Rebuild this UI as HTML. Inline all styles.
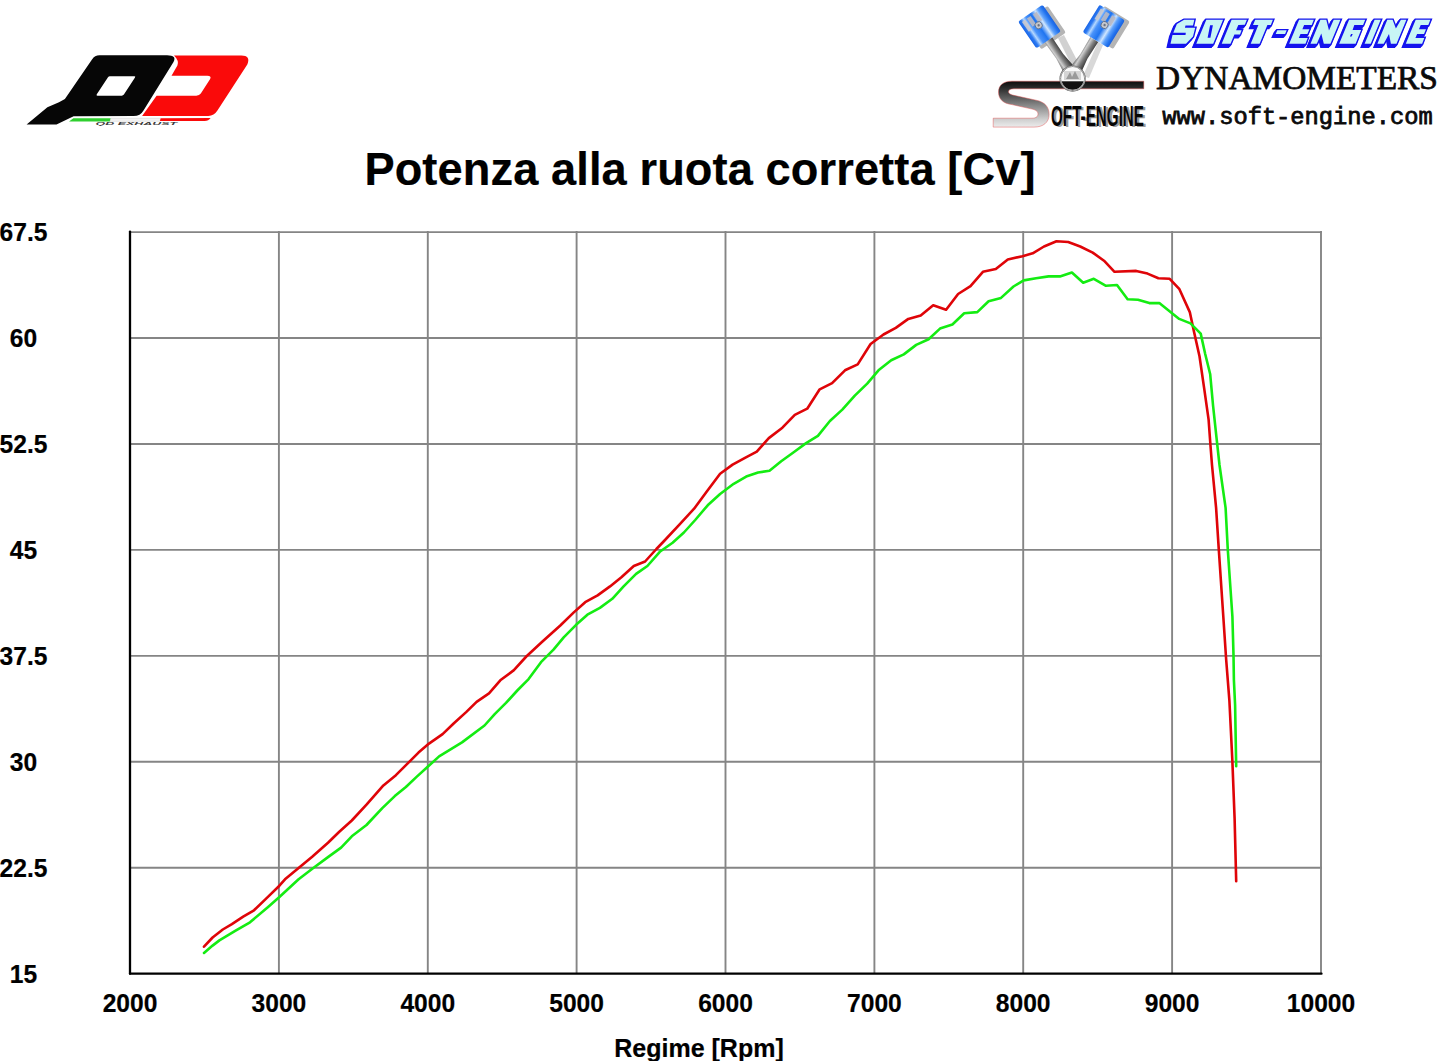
<!DOCTYPE html>
<html><head><meta charset="utf-8"><title>Potenza alla ruota corretta</title>
<style>
html,body{margin:0;padding:0;background:#fff;}
body{width:1445px;height:1061px;position:relative;overflow:hidden;font-family:"Liberation Sans",sans-serif;font-weight:bold;color:#000;-webkit-text-stroke:0.2px #000;}
#chart{position:absolute;left:0;top:0;}
.title{position:absolute;left:0;width:1400px;top:146px;text-align:center;font-size:45.2px;line-height:48px;white-space:nowrap;letter-spacing:0.1px;transform:scaleY(1.035);transform-origin:50% 39.6px;}
.yl{position:absolute;left:-26.5px;width:100px;text-align:center;font-size:24.6px;line-height:30px;height:30px;transform:scaleY(1.04);}
  .xl{position:absolute;top:988.5px;width:100px;text-align:center;font-size:24.6px;line-height:30px;transform:scaleY(1.04);}
.xt{position:absolute;left:599px;width:200px;top:1033px;text-align:center;font-size:25px;line-height:30px;white-space:nowrap;transform:scaleY(1.035);transform-origin:50% 23.5px;}
</style></head><body>
<svg id="chart" width="1445" height="1061" viewBox="0 0 1445 1061">
<g stroke="#858585" stroke-width="1.9" fill="none"><line x1="278.9" y1="231.1" x2="278.9" y2="973.7"/><line x1="427.8" y1="231.1" x2="427.8" y2="973.7"/><line x1="576.6" y1="231.1" x2="576.6" y2="973.7"/><line x1="725.5" y1="231.1" x2="725.5" y2="973.7"/><line x1="874.4" y1="231.1" x2="874.4" y2="973.7"/><line x1="1023.2" y1="231.1" x2="1023.2" y2="973.7"/><line x1="1172.1" y1="231.1" x2="1172.1" y2="973.7"/><line x1="1321.0" y1="231.1" x2="1321.0" y2="973.7"/><line x1="130.0" y1="232.1" x2="1322.0" y2="232.1"/><line x1="130.0" y1="338.0" x2="1322.0" y2="338.0"/><line x1="130.0" y1="444.0" x2="1322.0" y2="444.0"/><line x1="130.0" y1="549.9" x2="1322.0" y2="549.9"/><line x1="130.0" y1="655.9" x2="1322.0" y2="655.9"/><line x1="130.0" y1="761.8" x2="1322.0" y2="761.8"/><line x1="130.0" y1="867.8" x2="1322.0" y2="867.8"/></g>
<polyline points="204.0,946.7 212.6,937.5 222.8,929.5 231.9,924.1 243.2,916.7 254.0,910.3 266.9,897.9 279.4,885.7 285.0,879.3 298.6,868.0 312.2,856.7 328.0,842.7 339.3,831.8 351.8,820.5 366.5,804.7 383.4,785.4 395.9,775.2 407.2,763.9 418.5,752.6 429.0,743.6 442.6,734.1 453.9,723.3 466.4,711.9 476.6,701.8 489.0,693.4 500.3,680.3 513.9,670.1 526.3,656.5 542.2,641.8 560.3,625.5 573.8,612.4 585.2,602.2 597.6,595.4 610.0,586.4 621.4,577.3 633.8,566.0 645.1,561.5 656.4,549.0 663.6,541.5 679.4,524.6 694.1,508.7 706.6,491.8 720.1,473.7 732.6,464.6 745.0,457.8 756.8,451.7 768.8,438.1 782.4,427.7 794.8,414.8 807.2,408.7 819.7,389.3 832.1,383.2 845.0,370.3 857.7,364.4 870.6,344.0 883.5,334.5 895.8,327.9 908.3,318.9 920.7,315.5 933.2,305.3 946.1,309.8 958.1,294.0 970.5,286.1 982.9,271.8 995.8,269.1 1007.8,259.4 1022.5,256.2 1032.7,253.3 1044.0,246.5 1056.5,241.3 1068.2,242.0 1080.2,246.5 1092.7,252.6 1104.0,260.7 1114.5,271.8 1136.2,270.9 1147.5,273.6 1158.4,278.2 1169.7,278.8 1179.2,288.8 1189.8,312.1 1193.9,331.3 1199.5,356.2 1204.1,387.9 1208.6,419.6 1210.4,444.5 1212.0,465.0 1216.1,507.9 1218.8,549.7 1223.3,616.5 1226.2,660.0 1229.4,700.7 1232.4,761.8 1234.6,818.4 1236.2,881.3" fill="none" stroke="#df0408" stroke-width="2.6" stroke-linejoin="round" stroke-linecap="round"/>
<polyline points="204.0,952.9 212.6,945.6 219.4,940.4 235.2,930.9 250.0,922.3 268.1,906.9 279.4,897.0 298.6,879.3 313.3,868.0 328.0,857.1 341.1,847.6 351.8,836.3 366.5,825.0 382.3,808.1 394.8,796.1 405.9,787.0 416.3,777.1 427.7,766.8 439.1,756.4 462.0,742.4 484.5,725.5 494.7,714.2 506.0,702.9 517.3,690.5 528.6,679.1 541.0,662.2 553.5,649.7 563.7,637.3 576.1,624.8 587.4,614.7 599.9,607.9 612.3,598.8 623.6,586.4 636.1,573.9 647.4,566.0 659.8,551.8 672.6,542.7 683.9,532.5 695.2,520.0 707.7,505.3 720.1,494.0 733.7,483.8 746.2,476.6 758.1,472.5 769.5,470.7 781.2,461.2 793.7,452.2 806.1,443.1 817.9,435.9 829.9,421.0 842.3,409.6 854.8,395.6 867.2,383.6 878.5,370.3 891.2,360.3 903.8,354.4 916.2,344.9 928.6,339.3 940.0,328.6 952.4,324.5 964.2,313.2 977.3,312.1 988.6,301.2 1001.0,297.9 1013.5,286.5 1023.7,280.4 1036.1,278.2 1048.6,276.4 1059.9,276.4 1071.9,272.5 1083.2,282.7 1093.8,278.8 1106.0,285.8 1117.0,285.0 1127.6,299.2 1138.0,299.7 1149.3,303.1 1159.3,303.1 1179.2,318.9 1190.5,323.4 1200.7,333.6 1205.2,354.0 1210.2,374.3 1213.1,406.0 1216.5,437.7 1219.5,465.0 1225.6,507.9 1227.8,549.7 1232.4,616.5 1233.5,654.9 1233.9,680.0 1235.1,705.2 1236.2,766.3" fill="none" stroke="#14ec12" stroke-width="2.6" stroke-linejoin="round" stroke-linecap="round"/>
<g stroke="#000" stroke-width="2.3" fill="none" stroke-linecap="round"><line x1="130.0" y1="231.6" x2="130.0" y2="973.7"/><line x1="130.0" y1="973.7" x2="1321.5" y2="973.7"/></g>
<g id="qd">
<path fill="#060606" fill-rule="evenodd" d="M99.5,55.3 L167.2,55.3 Q177,55.3 173.5,62 L143.5,110.6 Q140.4,116.1 133.5,116.1 L73.6,116.2 L56.5,124.5 L26.6,124.5 L47.4,107.3 L59,102.3 L64.9,99 L92,59.5 Q94.8,55.3 99.5,55.3 Z M109.8,76.2 L134.2,76.2 Q135.9,76.2 135,77.6 L123.9,94.6 Q123.1,95.7 121.8,95.7 L97.4,95.7 Q95.9,95.7 96.8,94.3 L108,77.2 Q108.7,76.2 109.8,76.2 Z"/>
<path fill="#fa0a0a" d="M174,55.4 L241.3,55.4 Q251,55.4 247.3,64.5 L217.6,110.3 Q214,116 208.3,116 L142.1,116 L156.6,95.7 L196.3,95.7 Q199.4,95.7 200.8,93.6 L210,79.3 Q212,75.7 207.3,75.7 L171.5,75.7 L177.4,65.4 Q179.3,60.5 174,55.4 Z"/>
<path fill="#2ecf2e" d="M69,121.4 L73.4,118.3 L110.9,118.3 L110.1,121.4 Z"/>
<path fill="#f3f3f3" stroke="#cfcfcf" stroke-width="0.5" d="M110.9,118.3 L160.7,118.3 L159.9,121.2 L110.1,121.3 Z"/>
<path fill="#fa0a0a" d="M160.7,118.3 L210.6,118.1 Q208.6,121 204.6,121.1 L159.9,121.1 Z"/>
<text x="95.6" y="125.3" font-family="Liberation Sans" font-weight="bold" font-style="italic" font-size="3.4" textLength="81.5" lengthAdjust="spacingAndGlyphs" fill="#3a3a3a">QD EXHAUST</text>
</g>
<defs>
<linearGradient id="pg" x1="0" y1="0" x2="1" y2="0">
<stop offset="0" stop-color="#1a66e8"/><stop offset="0.1" stop-color="#2d7bf2"/><stop offset="0.2" stop-color="#b5d8ff"/><stop offset="0.3" stop-color="#4a93fa"/><stop offset="0.5" stop-color="#1f74f0"/><stop offset="0.68" stop-color="#cfe6ff"/><stop offset="0.78" stop-color="#5fa2fb"/><stop offset="0.92" stop-color="#2273ee"/><stop offset="1" stop-color="#1a62e0"/>
</linearGradient>
<linearGradient id="rg" x1="0" y1="0" x2="1" y2="0">
<stop offset="0" stop-color="#3a3a3a"/><stop offset="0.3" stop-color="#cfcfcf"/><stop offset="0.55" stop-color="#808080"/><stop offset="1" stop-color="#1e1e1e"/>
</linearGradient>
<linearGradient id="sg" gradientUnits="userSpaceOnUse" x1="0" y1="81" x2="0" y2="127">
<stop offset="0" stop-color="#0c0c0c"/><stop offset="0.22" stop-color="#3a3a3a"/><stop offset="0.55" stop-color="#8c8c8c"/><stop offset="0.85" stop-color="#d2d2d2"/><stop offset="1" stop-color="#ececec"/>
</linearGradient>
<clipPath id="cc"><circle cx="1072.6" cy="78.6" r="11.2"/></clipPath>
</defs>
<g id="se-left">
<path d="M1143.8,81.2 L1012,81.2 C1003,81.2 998.5,85.5 998.5,92 C998.5,99 1003,103.5 1012,104.6 L1030,108.6 C1036,109.6 1038,111.5 1038,114 C1038,116.5 1036,118.2 1032,118.2 L993.2,118.2 L993.2,127.1 L1034,127.1 C1043,127.1 1049.1,122.5 1049.1,114.5 C1049.1,107 1045,102 1036,100.2 L1016,95.8 C1010.5,94.8 1008.5,93.5 1008.5,91.8 C1008.5,89.8 1010.5,88.8 1014,88.8 L1143.8,88.8 Z" fill="url(#sg)" stroke="#e25555" stroke-width="0.6" stroke-opacity="0.8"/>
<path d="M1058,38 L1064,35 L1081,68 L1076,74 Z" fill="#bdbdbd" opacity="0.7"/>
<path d="M1098,42 L1103,45 L1089,78 L1083,76 Z" fill="#c8c8c8" opacity="0.7"/>
<g transform="translate(1044.5,27.7) rotate(-34.5)"><rect x="-14.9" y="-16.2" width="29.8" height="32.4" rx="2" fill="#b4b4b4"/></g>
<g transform="translate(1108.8,27.5) rotate(31.5)"><rect x="-14.9" y="-16.2" width="29.8" height="32.4" rx="2" fill="#b4b4b4"/></g>
<g transform="translate(1048.5,40) rotate(-34.5)"><path d="M-4.6,0 L4.6,0 L4.2,20 L7.2,46 L-7.2,46 L-4.2,20 Z" fill="url(#rg)"/></g>
<g transform="translate(1094.3,39.5) rotate(31.5)"><path d="M-4.6,0 L4.6,0 L4.2,20 L7.2,45 L-7.2,45 L-4.2,20 Z" fill="url(#rg)"/></g>
<g transform="translate(1039.5,26.5) rotate(-34.5)"><rect x="-14.9" y="-16.2" width="29.8" height="32.4" rx="2" fill="url(#pg)"/><rect x="-11.9" y="-13.7" width="4" height="12" fill="#c9c9cf" opacity="0.9"/><rect x="-5.9" y="-13.7" width="4.5" height="10" fill="#b9b9c3" opacity="0.9"/><rect x="1.4000000000000004" y="-13.7" width="4.5" height="10" fill="#b9b9c3" opacity="0.9"/><circle cx="0" cy="-1.5" r="3.6" fill="#c4c7cf" stroke="#5a6a86" stroke-width="0.8"/><circle cx="0" cy="-1.5" r="1.2" fill="#6d7482"/></g>
<g transform="translate(1103.8,26.3) rotate(31.5)"><rect x="-14.9" y="-16.2" width="29.8" height="32.4" rx="2" fill="url(#pg)"/><rect x="-11.9" y="-13.7" width="4" height="12" fill="#c9c9cf" opacity="0.9"/><rect x="-5.9" y="-13.7" width="4.5" height="10" fill="#b9b9c3" opacity="0.9"/><rect x="1.4000000000000004" y="-13.7" width="4.5" height="10" fill="#b9b9c3" opacity="0.9"/><circle cx="0" cy="-1.5" r="3.6" fill="#c4c7cf" stroke="#5a6a86" stroke-width="0.8"/><circle cx="0" cy="-1.5" r="1.2" fill="#6d7482"/></g>
<circle cx="1072.6" cy="78.6" r="12.3" fill="#fafafa" stroke="#5a5a5a" stroke-width="1.6"/>
<g clip-path="url(#cc)"><rect x="1058" y="81.3" width="30" height="14" fill="#111"/><rect x="1064" y="71" width="17" height="9" fill="#d5d5d5"/><path d="M1066,79 L1070,72 L1072,77 L1075,71 L1079,79 Z" fill="#9a9a9a"/></g>
<circle cx="1072.6" cy="78.6" r="12.3" fill="none" stroke="#d9d9d9" stroke-width="0.7"/>
<text x="1053.2" y="127.4" font-family="Liberation Sans" font-weight="bold" font-size="29" textLength="93" lengthAdjust="spacingAndGlyphs" fill="#9a9a9a">OFT-ENGINE</text>
<text x="1051" y="126.3" font-family="Liberation Sans" font-weight="bold" font-size="29" textLength="93" lengthAdjust="spacingAndGlyphs" fill="#050505">OFT-ENGINE</text>
</g>
<g id="se-title">
<defs><path id="setp" d="M1184.1,19.8 L1194.3,19.8 L1193.0,25.6 L1185.5,25.6 L1184.9,27.8 L1195.2,27.8 L1193.0,36.4 L1186.0,43.8 L1170.5,43.8 L1172.5,35.0 L1185.5,35.0 L1185.8,32.8 L1173.3,32.8 L1175.0,28.6 L1176.9,23.9Z M1206.3,19.8 L1223.1,19.8 L1213.2,43.8 L1196.3,43.8Z M1210.1,25.3 L1212.9,25.3 L1210.4,37.7 L1207.6,37.7Z M1231.6,19.8 L1246.9,19.8 L1244.8,24.7 L1238.3,25.0 L1236.1,30.3 L1241.6,30.3 L1240.0,34.4 L1234.4,34.4 L1230.5,43.8 L1221.7,43.8Z M1255.2,19.8 L1272.9,19.8 L1270.8,25.0 L1267.4,25.0 L1259.6,43.8 L1250.7,43.8 L1258.4,25.0 L1253.0,25.0Z M1277.3,30.3 L1286.7,30.3 L1285.1,33.9 L1275.7,33.9Z M1299.1,19.8 L1313.8,19.8 L1311.7,25.0 L1304.1,25.0 L1302.4,29.2 L1309.4,29.2 L1307.4,34.1 L1300.5,34.1 L1298.8,38.0 L1307.7,38.0 L1305.5,43.8 L1289.2,43.8Z M1320.4,19.8 L1326.3,19.8 L1329.0,30.5 L1333.7,19.8 L1340.4,19.8 L1330.4,43.8 L1323.8,43.8 L1321.3,33.6 L1316.8,43.8 L1310.5,43.8Z M1349.1,19.8 L1365.2,19.8 L1363.1,25.0 L1354.3,25.0 L1352.6,30.0 L1361.1,30.0 L1355.6,43.8 L1339.2,43.8Z M1351.1,34.1 L1352.7,34.1 L1351.6,36.6 L1349.9,36.6Z M1374.6,19.8 L1380.7,19.8 L1370.7,43.8 L1364.6,43.8Z M1387.3,19.8 L1392.6,19.8 L1395.9,28.6 L1400.9,19.8 L1406.4,19.8 L1396.5,43.8 L1390.9,43.8 L1389.0,33.9 L1383.7,43.8 L1377.4,43.8Z M1415.7,19.8 L1430.4,19.8 L1428.3,25.0 L1420.7,25.0 L1419.0,29.2 L1426.0,29.2 L1424.0,34.1 L1417.1,34.1 L1415.4,38.0 L1424.3,38.0 L1422.1,43.8 L1405.8,43.8Z"/></defs>
<g fill="#1414ee" stroke="#1414ee" stroke-width="2.8" stroke-linejoin="miter" fill-rule="nonzero">
<use href="#setp" transform="translate(-0.8,0.95)"/><use href="#setp" transform="translate(-1.6,1.9)"/><use href="#setp" transform="translate(-2.4,2.8)"/><use href="#setp"/>
</g>
<use href="#setp" fill="#c8f5f5" fill-rule="evenodd"/>
</g>
<text x="1156.1" y="88.7" font-family="Liberation Serif" font-weight="normal" font-size="33.5" textLength="281.8" lengthAdjust="spacingAndGlyphs" fill="#0a0a0a" stroke="#0a0a0a" stroke-width="0.75">DYNAMOMETERS</text>
<text x="1162.2" y="124.4" font-family="Liberation Mono" font-weight="normal" font-size="23.7" textLength="270.6" lengthAdjust="spacingAndGlyphs" fill="#0a0a0a" stroke="#0a0a0a" stroke-width="0.8">www.soft-engine.com</text>
</svg>
<div class="title">Potenza alla ruota corretta [Cv]</div>
<div class="yl" style="top:218.1px">67.5</div><div class="yl" style="top:324.0px">60</div><div class="yl" style="top:430.0px">52.5</div><div class="yl" style="top:535.9px">45</div><div class="yl" style="top:641.9px">37.5</div><div class="yl" style="top:747.8px">30</div><div class="yl" style="top:853.8px">22.5</div><div class="yl" style="top:959.7px">15</div><div class="xl" style="left:80.0px">2000</div><div class="xl" style="left:228.9px">3000</div><div class="xl" style="left:377.8px">4000</div><div class="xl" style="left:526.6px">5000</div><div class="xl" style="left:675.5px">6000</div><div class="xl" style="left:824.4px">7000</div><div class="xl" style="left:973.2px">8000</div><div class="xl" style="left:1122.1px">9000</div><div class="xl" style="left:1271.0px">10000</div>
<div class="xt">Regime [Rpm]</div>
</body></html>
